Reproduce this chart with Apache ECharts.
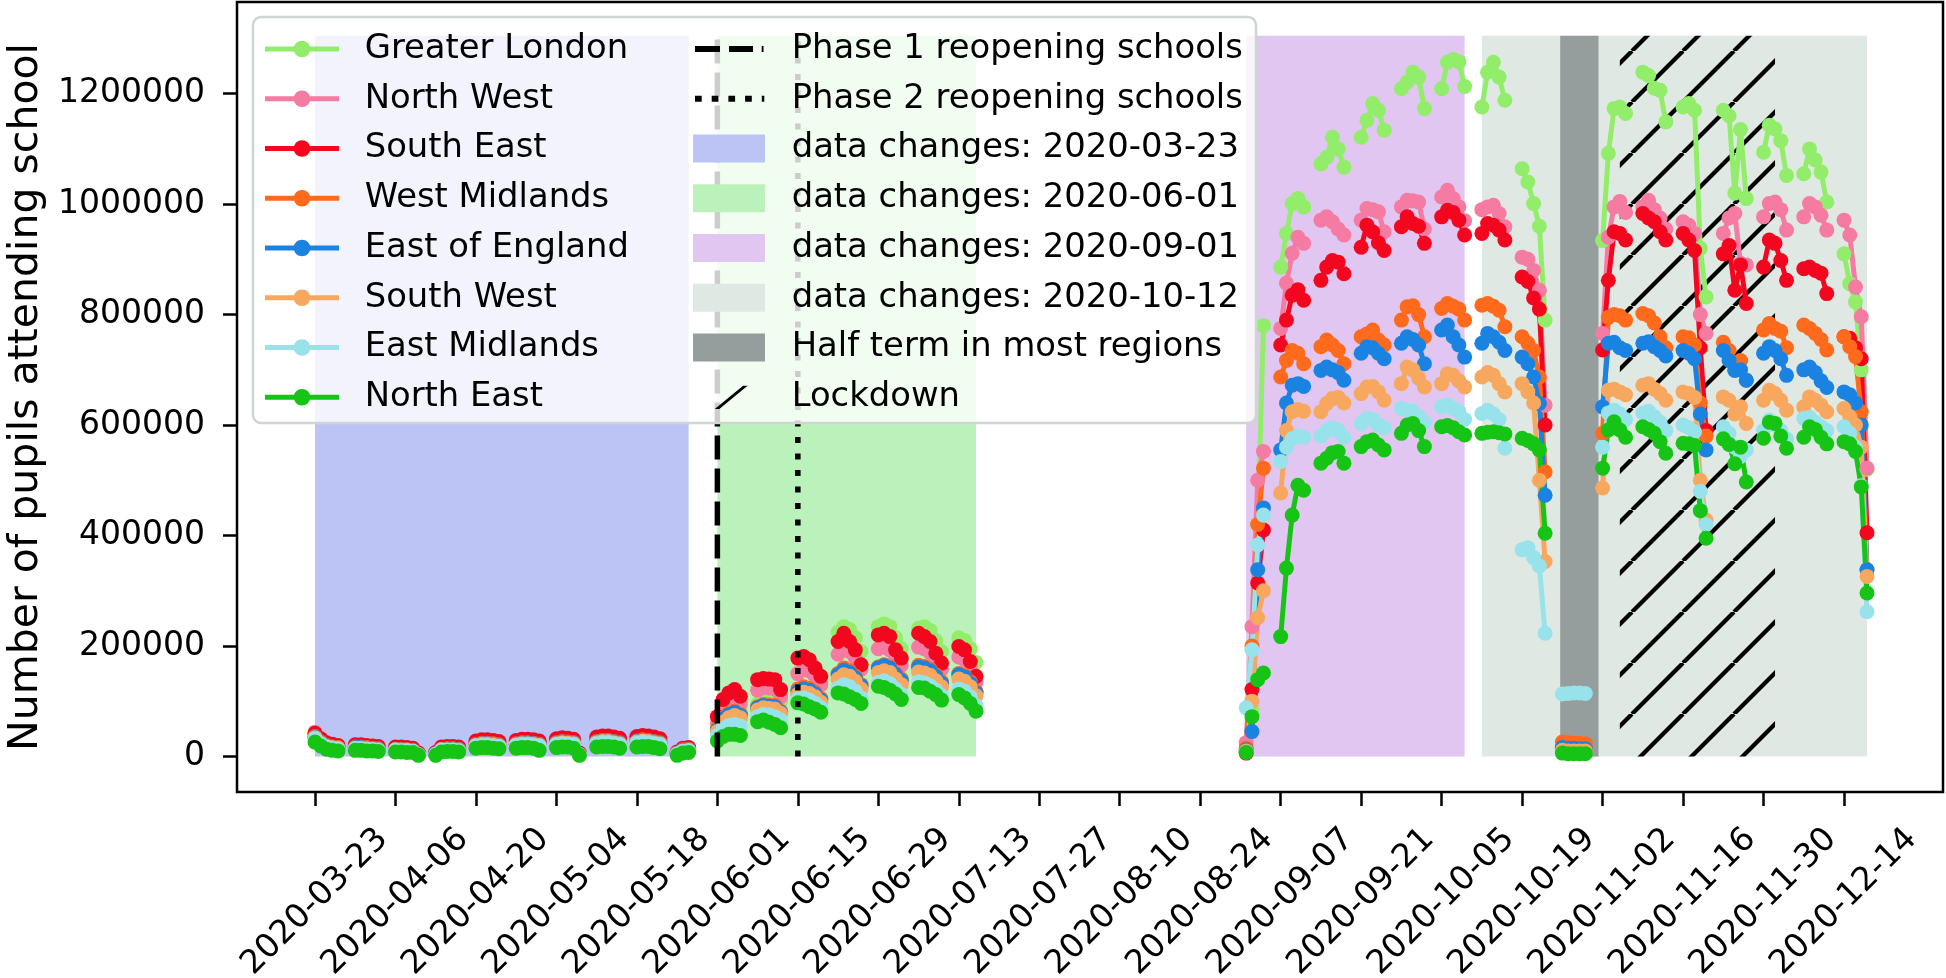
<!DOCTYPE html>
<html>
<head>
<meta charset="utf-8">
<script src="https://cdn.jsdelivr.net/npm/echarts@6/dist/echarts.min.js"></script>
<style>
html,body{margin:0;padding:0;background:#fff;}
#chart{width:1946px;height:978px;}
</style>
</head>
<body>
<div id="chart"></div>
<script>
// ---------------- DATA ----------------
// Monday of each school week; each region row holds Mon..Fri values (null = no data)
const weekStarts = ['2020-03-23','2020-03-30','2020-04-06','2020-04-13','2020-04-20','2020-04-27','2020-05-04','2020-05-11','2020-05-18','2020-05-25',
  '2020-06-01','2020-06-08','2020-06-15','2020-06-22','2020-06-29','2020-07-06','2020-07-13',
  '2020-08-31','2020-09-07','2020-09-14','2020-09-21','2020-09-28','2020-10-05',
  '2020-10-12','2020-10-19','2020-10-26','2020-11-02','2020-11-09','2020-11-16','2020-11-23','2020-11-30','2020-12-07','2020-12-14'];

const regionNames = ['Greater London','North West','South East','West Midlands','East of England','South West','East Midlands','North East'];

const greaterLondon = [
[38e3,27e3,21e3,18e3,17e3],[18e3,18e3,17e3,16e3,15e3],[14e3,14e3,13e3,12e3,5e3],[6e3,14e3,15e3,15e3,14e3],[24e3,26e3,26e3,25e3,23e3],
[25e3,27e3,27e3,26e3,24e3],[27e3,29e3,28e3,27e3,5e3],[30e3,32e3,32e3,30e3,28e3],[31e3,33e3,32e3,30e3,28e3],[7e3,13e3,14e3,null,null],
[45e3,70e3,80e3,85e3,80e3],[95e3,105e3,108e3,110e3,100e3],[150e3,160e3,162e3,155e3,140e3],[225e3,235e3,230e3,215e3,190e3],
[235e3,240e3,235e3,215e3,195e3],[232e3,235e3,228e3,210e3,190e3],[215e3,210e3,195e3,170e3,null],
[null,8e3,85e3,420e3,780e3],[886e3,947e3,1001e3,1010e3,995e3],[1073e3,1085e3,1121e3,1100e3,1067e3],[1121e3,1152e3,1182e3,1170e3,1134e3],
[1209e3,1221e3,1239e3,1230e3,1173e3],[1209e3,1257e3,1262e3,1258e3,1213e3],
[1176e3,1239e3,1257e3,1230e3,1188e3],[1064e3,1040e3,1001e3,960e3,790e3],[9e3,8e3,8e3,8e3,8e3],[934e3,1092e3,1173e3,1176e3,1164e3],
[1239e3,1233e3,1210e3,1206e3,1149e3],[1176e3,1182e3,1170e3,920e3,832e3],[1170e3,1160e3,1020e3,1135e3,1010e3],
[1094e3,1143e3,1136e3,1115e3,1052e3],[1055e3,1100e3,1080e3,1058e3,1004e3],[910e3,856e3,823e3,700e3,520e3]];

const northWest = [
[44e3,30e3,23e3,20e3,19e3],[19e3,19e3,18e3,17e3,16e3],[15e3,15e3,14e3,13e3,5e3],[6e3,15e3,16e3,16e3,15e3],[25e3,27e3,27e3,26e3,24e3],
[26e3,28e3,28e3,27e3,25e3],[29e3,31e3,30e3,28e3,5e3],[32e3,34e3,34e3,32e3,30e3],[33e3,35e3,34e3,32e3,29e3],[7e3,14e3,15e3,null,null],
[60e3,90e3,100e3,105e3,95e3],[120e3,125e3,124e3,122e3,108e3],[150e3,158e3,155e3,145e3,130e3],[185e3,195e3,190e3,178e3,158e3],
[195e3,198e3,193e3,178e3,165e3],[198e3,195e3,188e3,172e3,158e3],[180e3,175e3,160e3,135e3,null],
[null,25e3,235e3,500e3,552e3],[775e3,857e3,911e3,940e3,929e3],[971e3,977e3,968e3,955e3,944e3],[971e3,992e3,990e3,986e3,950e3],
[995e3,1007e3,1006e3,1004e3,955e3],[1013e3,1025e3,1010e3,995e3,970e3],
[990e3,995e3,998e3,983e3,959e3],[904e3,900e3,880e3,844e3,636e3],[13e3,12e3,12e3,12e3,11e3],[766e3,940e3,995e3,1005e3,985e3],
[995e3,1007e3,990e3,975e3,955e3],[968e3,962e3,947e3,800e3,766e3],[947e3,975e3,983e3,893e3,890e3],
[977e3,1001e3,1004e3,990e3,953e3],[977e3,1001e3,995e3,980e3,953e3],[971e3,944e3,850e3,796e3,522e3]];

const southEast = [
[42e3,32e3,25e3,22e3,20e3],[21e3,21e3,20e3,19e3,18e3],[17e3,17e3,16e3,15e3,6e3],[7e3,17e3,18e3,18e3,17e3],[28e3,30e3,30e3,29e3,27e3],
[29e3,31e3,31e3,30e3,28e3],[32e3,34e3,33e3,31e3,6e3],[35e3,37e3,37e3,35e3,33e3],[36e3,38e3,37e3,35e3,32e3],[8e3,15e3,16e3,null,null],
[72e3,103e3,115e3,121e3,109e3],[139e3,141e3,140e3,139e3,121e3],[178e3,181e3,175e3,160e3,145e3],[208e3,223e3,208e3,193e3,166e3],
[220e3,223e3,217e3,193e3,178e3],[223e3,217e3,208e3,187e3,169e3],[199e3,193e3,172e3,145e3,null],
[null,6e3,121e3,314e3,410e3],[745e3,790e3,835e3,845e3,826e3],[862e3,886e3,898e3,895e3,874e3],[922e3,962e3,950e3,930e3,916e3],
[959e3,977e3,965e3,960e3,929e3],[977e3,989e3,985e3,971e3,944e3],
[947e3,965e3,962e3,953e3,935e3],[868e3,860e3,830e3,810e3,600e3],[16e3,15e3,14e3,14e3,13e3],[736e3,862e3,950e3,947e3,935e3],
[983e3,975e3,968e3,950e3,935e3],[947e3,935e3,916e3,740e3,590e3],[910e3,925e3,844e3,890e3,820e3],
[886e3,935e3,929e3,898e3,862e3],[883e3,886e3,880e3,875e3,838e3],[760e3,757e3,740e3,720e3,405e3]];

const westMidlands = [
[36e3,26e3,20e3,17e3,16e3],[17e3,17e3,16e3,15e3,14e3],[13e3,13e3,12e3,11e3,4e3],[5e3,13e3,14e3,14e3,13e3],[22e3,24e3,24e3,23e3,21e3],
[23e3,25e3,25e3,24e3,22e3],[25e3,27e3,26e3,25e3,4e3],[27e3,29e3,29e3,27e3,25e3],[28e3,30e3,29e3,27e3,25e3],[6e3,12e3,13e3,null,null],
[50e3,70e3,78e3,82e3,76e3],[90e3,94e3,93e3,92e3,82e3],[122e3,126e3,123e3,116e3,105e3],[150e3,160e3,155e3,145e3,130e3],
[162e3,166e3,162e3,150e3,140e3],[165e3,163e3,158e3,148e3,135e3],[150e3,147e3,135e3,118e3,null],
[null,15e3,200e3,420e3,522e3],[687e3,717e3,735e3,730e3,711e3],[742e3,754e3,745e3,735e3,711e3],[760e3,765e3,772e3,754e3,745e3],
[790e3,814e3,816e3,800e3,760e3],[811e3,820e3,815e3,810e3,790e3],
[817e3,820e3,815e3,808e3,778e3],[760e3,748e3,735e3,687e3,515e3],[26e3,25e3,24e3,24e3,23e3],[585e3,795e3,800e3,798e3,790e3],
[802e3,798e3,785e3,760e3,740e3],[760e3,758e3,745e3,640e3,580e3],[750e3,735e3,700e3,717e3,681e3],
[772e3,784e3,775e3,770e3,740e3],[781e3,775e3,766e3,755e3,736e3],[760e3,742e3,724e3,624e3,338e3]];

const eastOfEngland = [
[35e3,25e3,19e3,17e3,15e3],[16e3,16e3,15e3,14e3,13e3],[12e3,12e3,11e3,11e3,4e3],[5e3,12e3,13e3,13e3,12e3],[21e3,23e3,23e3,22e3,20e3],
[22e3,24e3,24e3,23e3,21e3],[24e3,26e3,25e3,24e3,4e3],[26e3,28e3,28e3,26e3,24e3],[27e3,29e3,28e3,26e3,24e3],[6e3,11e3,12e3,null,null],
[48e3,68e3,76e3,80e3,74e3],[88e3,92e3,91e3,90e3,80e3],[118e3,122e3,120e3,113e3,102e3],[148e3,156e3,152e3,142e3,128e3],
[160e3,164e3,160e3,148e3,137e3],[162e3,160e3,155e3,145e3,132e3],[148e3,144e3,132e3,115e3,null],
[null,12e3,45e3,338e3,450e3],[555e3,640e3,672e3,675e3,670e3],[699e3,705e3,700e3,695e3,681e3],[730e3,742e3,740e3,730e3,720e3],
[748e3,760e3,755e3,745e3,711e3],[772e3,781e3,760e3,745e3,723e3],
[748e3,766e3,760e3,750e3,735e3],[723e3,711e3,687e3,639e3,473e3],[16e3,15e3,15e3,14e3,14e3],[633e3,748e3,750e3,740e3,735e3],
[748e3,751e3,742e3,735e3,725e3],[735e3,730e3,720e3,620e3,555e3],[735e3,717e3,699e3,700e3,681e3],
[730e3,742e3,735e3,720e3,690e3],[700e3,705e3,695e3,680e3,668e3],[660e3,655e3,640e3,600e3,338e3]];

const southWest = [
[34e3,24e3,18e3,16e3,15e3],[15e3,15e3,14e3,13e3,12e3],[12e3,11e3,11e3,10e3,3e3],[4e3,12e3,12e3,12e3,11e3],[20e3,22e3,22e3,21e3,19e3],
[21e3,23e3,23e3,22e3,20e3],[23e3,25e3,24e3,23e3,3e3],[25e3,27e3,27e3,25e3,23e3],[26e3,28e3,27e3,25e3,23e3],[5e3,10e3,11e3,null,null],
[45e3,62e3,70e3,74e3,70e3],[84e3,88e3,87e3,86e3,78e3],[112e3,116e3,114e3,108e3,98e3],[140e3,148e3,145e3,136e3,122e3],
[152e3,155e3,152e3,140e3,130e3],[153e3,151e3,147e3,137e3,126e3],[140e3,136e3,126e3,110e3,null],
[null,10e3,100e3,251e3,300e3],[477e3,590e3,624e3,628e3,625e3],[624e3,639e3,648e3,650e3,640e3],[657e3,669e3,670e3,660e3,645e3],
[675e3,705e3,700e3,685e3,669e3],[675e3,693e3,690e3,680e3,669e3],
[687e3,695e3,690e3,675e3,660e3],[675e3,660e3,640e3,500e3,353e3],[11e3,10e3,10e3,10e3,10e3],[486e3,663e3,665e3,660e3,655e3],
[672e3,675e3,665e3,657e3,645e3],[660e3,657e3,650e3,500e3,428e3],[651e3,645e3,620e3,633e3,603e3],
[645e3,663e3,657e3,645e3,627e3],[633e3,651e3,645e3,636e3,624e3],[630e3,615e3,600e3,560e3,326e3]];

const eastMidlands = [
[32e3,22e3,17e3,14e3,13e3],[14e3,14e3,13e3,12e3,11e3],[11e3,10e3,10e3,9e3,3e3],[4e3,11e3,11e3,11e3,10e3],[19e3,20e3,20e3,19e3,18e3],
[20e3,21e3,21e3,20e3,19e3],[21e3,23e3,22e3,21e3,3e3],[23e3,25e3,25e3,23e3,21e3],[24e3,26e3,25e3,23e3,21e3],[4e3,9e3,10e3,null,null],
[38e3,50e3,56e3,58e3,55e3],[72e3,76e3,75e3,72e3,66e3],[104e3,106e3,102e3,96e3,88e3],[124e3,130e3,126e3,118e3,106e3],
[134e3,137e3,132e3,122e3,112e3],[135e3,133e3,128e3,120e3,110e3],[122e3,118e3,108e3,92e3,null],
[null,88e3,193e3,383e3,437e3],[534e3,560e3,575e3,580e3,578e3],[580e3,590e3,595e3,590e3,578e3],[603e3,612e3,610e3,600e3,595e3],
[630e3,627e3,625e3,615e3,605e3],[633e3,636e3,630e3,625e3,610e3],
[621e3,627e3,620e3,610e3,558e3],[374e3,378e3,360e3,345e3,223e3],[113e3,114e3,115e3,115e3,114e3],[560e3,622e3,627e3,620e3,610e3],
[622e3,625e3,615e3,605e3,590e3],[600e3,595e3,588e3,480e3,420e3],[597e3,585e3,560e3,543e3,555e3],
[590e3,609e3,600e3,590e3,575e3],[612e3,614e3,605e3,597e3,590e3],[597e3,585e3,560e3,490e3,262e3]];

const northEast = [
[26e3,19e3,13e3,11e3,10e3],[11e3,11e3,10e3,10e3,9e3],[8e3,8e3,7e3,7e3,2e3],[2e3,8e3,9e3,9e3,8e3],[15e3,16e3,16e3,15e3,14e3],
[15e3,16e3,16e3,15e3,11e3],[16e3,17e3,17e3,15e3,2e3],[17e3,18e3,18e3,17e3,15e3],[17e3,18e3,18e3,16e3,14e3],[2e3,6e3,7e3,null,null],
[28e3,36e3,40e3,40e3,38e3],[63e3,66e3,62e3,58e3,52e3],[97e3,95e3,90e3,86e3,80e3],[115e3,113e3,108e3,103e3,96e3],
[127e3,125e3,120e3,113e3,103e3],[125e3,124e3,118e3,112e3,102e3],[112e3,106e3,96e3,82e3,null],
[null,7e3,72e3,139e3,151e3],[217e3,341e3,437e3,491e3,482e3],[531e3,540e3,550e3,552e3,531e3],[561e3,570e3,573e3,564e3,555e3],
[585e3,600e3,603e3,590e3,561e3],[597e3,599e3,595e3,588e3,582e3],
[585e3,587e3,588e3,586e3,584e3],[576e3,572e3,566e3,555e3,404e3],[6e3,5e3,5e3,5e3,5e3],[522e3,591e3,606e3,591e3,578e3],
[597e3,592e3,585e3,570e3,549e3],[567e3,566e3,563e3,445e3,395e3],[575e3,565e3,530e3,560e3,497e3],
[576e3,605e3,603e3,580e3,558e3],[578e3,597e3,592e3,578e3,566e3],[570e3,566e3,552e3,488e3,296e3]];

// shaded periods
const periodNames = ['data changes: 2020-03-23','data changes: 2020-06-01','data changes: 2020-09-01','data changes: 2020-10-12'];
const periodStarts = ['2020-03-23','2020-06-01','2020-09-01','2020-10-12'];
const periodEnds = ['2020-05-27','2020-07-16','2020-10-09','2020-12-18'];
const shadeBottom = 0;
const shadeTop = 1305000;
const halfTermName = 'Half term in most regions';
const halfTermSpan = ['2020-10-25T15:00','2020-11-01T07:00'];
const lockdownName = 'Lockdown';
const lockdownSpan = ['2020-11-05','2020-12-02'];
const phaseNames = ['Phase 1 reopening schools','Phase 2 reopening schools'];
const phaseDates = ['2020-06-01','2020-06-15'];

// axis ticks
const xTickLabels = ['2020-03-23','2020-04-06','2020-04-20','2020-05-04','2020-05-18','2020-06-01','2020-06-15','2020-06-29','2020-07-13','2020-07-27',
  '2020-08-10','2020-08-24','2020-09-07','2020-09-21','2020-10-05','2020-10-19','2020-11-02','2020-11-16','2020-11-30','2020-12-14'];
const yTicks = [0,200000,400000,600000,800000,1000000,1200000];

// ---------------- STYLE ----------------
const FONT = 'DejaVu Sans';
const regionColors = ['#92ed6a','#f57ba2','#f2071e','#ff6a1c','#1a83e2','#f7a85e','#98e2eb','#16c416'];
const periodColors = ['#bcc3f5','#bbf2bb','#e0c6f0','#e0e8e3'];
const halfTermColor = '#959e9c';

const DAY = 86400000;
const ts = s => Date.parse(s.length === 10 ? s + 'T00:00:00Z' : s + ':00Z');

function weekPoints(rows) {
  const pts = [];
  rows.forEach((vals, w) => {
    const start = ts(weekStarts[w]);
    vals.forEach((v, d) => pts.push([start + d * DAY, v]));
    pts.push([start + 5 * DAY, null]);
  });
  return pts;
}

function hatchCanvas() {
  const s = 51;
  const c = document.createElement('canvas');
  c.width = s; c.height = s;
  const g = c.getContext('2d');
  g.strokeStyle = '#000'; g.lineWidth = 4.2;
  [-s, 0, s].forEach(o => { g.beginPath(); g.moveTo(o, s); g.lineTo(o + s, 0); g.stroke(); });
  return c;
}
const hatch = { image: hatchCanvas(), repeat: 'repeat' };

function spanRender(fillFn) {
  return function (params, api) {
    const a = api.coord([api.value(0), api.value(3)]);
    const b = api.coord([api.value(1), api.value(2)]);
    return { type: 'rect', shape: { x: a[0], y: a[1], width: b[0] - a[0], height: b[1] - a[1] },
      style: { fill: fillFn(api), stroke: null } };
  };
}

const regionData = [greaterLondon, northWest, southEast, westMidlands, eastOfEngland, southWest, eastMidlands, northEast];

const series = [];
periodNames.forEach((n, i) => {
  series.push({ type: 'custom', name: n, z: 0, silent: true, animation: false,
    itemStyle: { color: periodColors[i] },
    encode: { x: [0, 1], y: [2, 3] },
    renderItem: spanRender(api => api.visual('color')),
    data: [[ts(periodStarts[i]), ts(periodEnds[i]), shadeBottom, shadeTop]] });
});
series.push({ type: 'custom', name: halfTermName, z: 0.5, silent: true, animation: false,
  itemStyle: { color: halfTermColor }, encode: { x: [0, 1], y: [2, 3] },
  renderItem: spanRender(api => api.visual('color')),
  data: [[ts(halfTermSpan[0]), ts(halfTermSpan[1]), shadeBottom, shadeTop]] });
series.push({ type: 'custom', name: lockdownName, z: 1, silent: true, animation: false,
  itemStyle: { color: '#000' }, encode: { x: [0, 1], y: [2, 3] },
  renderItem: spanRender(() => hatch),
  data: [[ts(lockdownSpan[0]), ts(lockdownSpan[1]), shadeBottom, shadeTop]] });

regionNames.forEach((n, i) => {
  series.push({ type: 'line', name: n, z: 2, silent: true, animation: false,
    symbol: 'circle', symbolSize: 15, showSymbol: true, connectNulls: false,
    lineStyle: { width: 5, color: regionColors[i] },
    itemStyle: { color: regionColors[i], borderWidth: 0 },
    emphasis: { disabled: true },
    data: weekPoints(regionData[i]) });
});

const phaseDash = [[24, 9], [6, 10.5]];
phaseNames.forEach((n, i) => {
  const t = ts(phaseDates[i]);
  series.push({ type: 'line', name: n, z: 3, silent: true, animation: false, symbol: 'none',
    lineStyle: { width: 5.5, color: '#000', type: phaseDash[i] },
    itemStyle: { color: '#000' }, emphasis: { disabled: true },
    data: [[t, shadeBottom], [t, shadeTop]] });
});

// legend icons (path boxes keep their full size via corner specks)
const box = (w, h) => `M0,0h0.01v0.01h-0.01Z M${w},${h}h-0.01v-0.01h0.01Z `;
const lineMarkerIcon = 'path://' + box(74, 20) + 'M0,7.5h74v5h-74Z M45.35,10a8.35,8.35 0 1 1 -16.7,0a8.35,8.35 0 1 1 16.7,0Z';
const dashIcon = 'path://' + box(72, 28) + 'M2,11h25v6h-25Z M36,11h24v6h-24Z M68.7,11h1.8v6h-1.8Z';
const dotIcon = 'path://' + box(72, 28) + 'M2,11h6.7v6h-6.7Z M18.7,11h6.7v6h-6.7Z M35.4,11h6.7v6h-6.7Z M52.1,11h6.7v6h-6.7Z M68.8,11h2.5v6h-2.5Z';
const slashIcon = 'path://' + box(72, 28) + 'M21.8,25.8L26.3,25.8L54.6,2.4L50.1,2.4Z';

const legendText = { fontFamily: FONT, fontSize: 33.8, color: '#000', lineHeight: 40 };

const option = {
  backgroundColor: '#fff',
  animation: false,
  grid: { left: 237, top: 2, width: 1706, height: 790, show: true, borderColor: '#000', borderWidth: 2.5,
    backgroundColor: 'transparent', containLabel: false, outerBoundsMode: 'none' },
  xAxis: {
    type: 'value', min: ts('2020-03-23') - 13.57 * DAY, max: ts('2020-12-14') + 17.22 * DAY,
    splitLine: { show: false },
    axisLine: { show: false, onZero: false },
    axisTick: { show: true, customValues: xTickLabels.map(ts), length: 14, lineStyle: { color: '#000', width: 2.5 } },
    axisLabel: { customValues: xTickLabels.map(ts), formatter: v => new Date(v).toISOString().slice(0, 10),
      rotate: 45, align: 'center', verticalAlign: 'middle', margin: 110,
      fontFamily: FONT, fontSize: 33, color: '#000' }
  },
  yAxis: {
    type: 'value', min: -64400, max: 1366000,
    name: 'Number of pupils attending school', nameLocation: 'middle', nameGap: 173,
    nameTextStyle: { fontFamily: FONT, fontSize: 41, color: '#000' },
    splitLine: { show: false },
    axisLine: { show: false, onZero: false },
    axisTick: { show: true, customValues: yTicks, length: 14, lineStyle: { color: '#000', width: 2.5 } },
    axisLabel: { customValues: yTicks, formatter: v => String(v), margin: 32, fontFamily: FONT, fontSize: 33, color: '#000' }
  },
  graphic: [{ type: 'rect', z: 10, silent: true,
    shape: { x: 253, y: 17, width: 1003, height: 406, r: 8 },
    style: { fill: 'rgba(255,255,255,0.8)', stroke: '#cfd5d2', lineWidth: 2.5 } }],
  legend: [
    { orient: 'vertical', left: 265, top: 29, padding: 0, itemWidth: 74, itemHeight: 20, itemGap: 9.75,
      selectedMode: false, z: 11, textStyle: Object.assign({ padding: [0, 0, 0, 20.7] }, legendText),
      data: regionNames.map(n => ({ name: n, icon: lineMarkerIcon })) },
    { orient: 'vertical', left: 693, top: 29, padding: 0, itemWidth: 72, itemHeight: 28, itemGap: 9.75,
      selectedMode: false, z: 11, textStyle: Object.assign({ padding: [0, 0, 0, 21.7] }, legendText),
      data: [{ name: phaseNames[0], icon: dashIcon }, { name: phaseNames[1], icon: dotIcon }]
        .concat(periodNames.map(n => ({ name: n, icon: 'rect' })))
        .concat([{ name: halfTermName, icon: 'rect' }, { name: lockdownName, icon: slashIcon }]) }
  ],
  series: series
};

const chart = echarts.init(document.getElementById('chart'), null, { renderer: 'canvas', width: 1946, height: 978 });
chart.setOption(option);
</script>
</body>
</html>
